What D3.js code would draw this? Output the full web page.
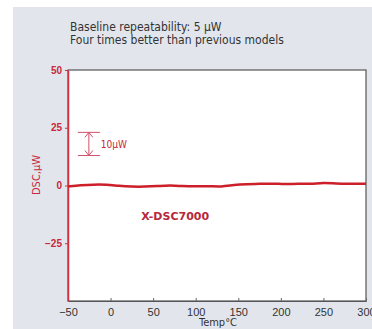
<!DOCTYPE html>
<html>
<head>
<meta charset="utf-8">
<script src="https://cdn.jsdelivr.net/npm/d3@7"></script>
<style>
  body { margin: 0; background: #fff; }
  svg { display: block; font-family: "Liberation Sans Narrow", "DejaVu Sans Condensed", "Arial Narrow", sans-serif; }
</style>
</head>
<body>
<div id="chart"></div>
<script>
// temperature (°C) and DSC signal (µW)
const temps = [-50, -35, -20, -5, 10, 25, 40, 55, 70, 85, 100, 115, 130, 145, 160, 175, 190, 205, 220, 235, 250, 265, 280, 300];
const dsc   = [-0.4, 0.1, 0.4, 0.4, -0.2, -0.5, -0.5, -0.3, 0.1, -0.3, -0.4, -0.2, -0.6, 0.3, 0.6, 0.7, 0.9, 0.5, 0.8, 0.6, 1.3, 0.8, 0.8, 0.8];
const xTicks = [-50, 0, 50, 100, 150, 200, 250, 300];
const yTicks = [50, 25, 0, -25];
const titleLines = ["Baseline repeatability: 5 \u03bcW", "Four times better than previous models"];

const W = 372, H = 329;
const margin = {top: 70, right: 6, bottom: 28, left: 68};
const width = W - margin.left - margin.right,
    height = H - margin.top - margin.bottom;

const svg = d3.select("#chart")
    .append("svg")
    .attr("width", W)
    .attr("height", H);

// grey-blue panel behind everything
svg.append("rect")
    .attr("x", 13).attr("y", 7)
    .attr("width", W - 13).attr("height", H - 7)
    .attr("fill", "#e2e6ec");

svg.selectAll("text.title")
    .data(titleLines)
    .join("text")
    .attr("x", 70)
    .attr("y", (d, i) => 31 + i * 13)
    .attr("font-size", 12)
    .attr("fill", "#333")
    .text(d => d);

const g = svg.append("g")
    .attr("transform", `translate(${margin.left},${margin.top})`);

const x = d3.scaleLinear().domain([-50, 300]).range([0, width]);
const y = d3.scaleLinear().domain([-50, 50]).range([height, 0]);

g.append("rect")
    .attr("width", width).attr("height", height)
    .attr("fill", "#fff")
    .attr("stroke", "#555")
    .attr("stroke-width", 1.2);

// bottom axis, ticks pointing in
const xAxis = g.append("g")
    .attr("transform", `translate(0,${height})`)
    .call(d3.axisBottom(x).tickValues(xTicks).tickSizeInner(-3).tickSizeOuter(0).tickPadding(7));
xAxis.select(".domain").attr("stroke", "#555").attr("stroke-width", 1.2);
xAxis.selectAll(".tick line").attr("stroke", "#666");
xAxis.selectAll("text").attr("font-size", 11).attr("fill", "#333")
    .attr("font-family", "inherit");

// left axis in red
const yAxis = g.append("g")
    .call(d3.axisLeft(y).tickValues(yTicks).tickSizeInner(3).tickSizeOuter(0).tickPadding(3));
yAxis.select(".domain").attr("stroke", "#d23040").attr("stroke-width", 1.5);
yAxis.selectAll(".tick line").attr("stroke", "#d23040");
yAxis.selectAll("text").attr("font-size", 10).attr("font-weight", "bold")
    .attr("fill", "#c8283a").attr("font-family", "inherit");

svg.append("text")
    .attr("x", 218).attr("y", 326)
    .attr("text-anchor", "middle")
    .attr("font-size", 11)
    .attr("fill", "#333")
    .text("Temp\u00b0C");

svg.append("text")
    .attr("transform", "translate(40,175) rotate(-90)")
    .attr("text-anchor", "middle")
    .attr("font-size", 11)
    .attr("fill", "#c8283a")
    .text("DSC,\u03bcW");

// baseline trace
g.append("path")
    .datum(temps.map((t, i) => [t, dsc[i]]))
    .attr("fill", "none")
    .attr("stroke", "#cc1f2a")
    .attr("stroke-width", 2.5)
    .attr("d", d3.line().x(d => x(d[0])).y(d => y(d[1])).curve(d3.curveBasis));

// 10 µW scale marker
const mx = x(-25.5), top10 = y(23), bot10 = y(13);
const marker = g.append("g").attr("stroke", "#d0506a").attr("stroke-width", 1).attr("fill", "none");
marker.append("line").attr("x1", mx - 11).attr("x2", mx + 11).attr("y1", top10).attr("y2", top10);
marker.append("line").attr("x1", mx - 11).attr("x2", mx + 11).attr("y1", bot10).attr("y2", bot10);
marker.append("line").attr("x1", mx).attr("x2", mx).attr("y1", top10).attr("y2", bot10);
marker.append("path").attr("d", `M${mx - 4},${top10 + 5}L${mx},${top10}L${mx + 4},${top10 + 5}`);
marker.append("path").attr("d", `M${mx - 4},${bot10 - 5}L${mx},${bot10}L${mx + 4},${bot10 - 5}`);
g.append("text")
    .attr("x", mx + 12).attr("y", (top10 + bot10) / 2 + 4)
    .attr("font-size", 10)
    .attr("fill", "#c8283a")
    .text("10\u03bcW");

g.append("text")
    .attr("x", x(36))
    .attr("y", y(-15))
    .attr("font-size", 11)
    .attr("font-weight", "bold")
    .attr("fill", "#b8283a")
    .attr("font-family", "DejaVu Sans, sans-serif")
    .text("X-DSC7000");
</script>
</body>
</html>
